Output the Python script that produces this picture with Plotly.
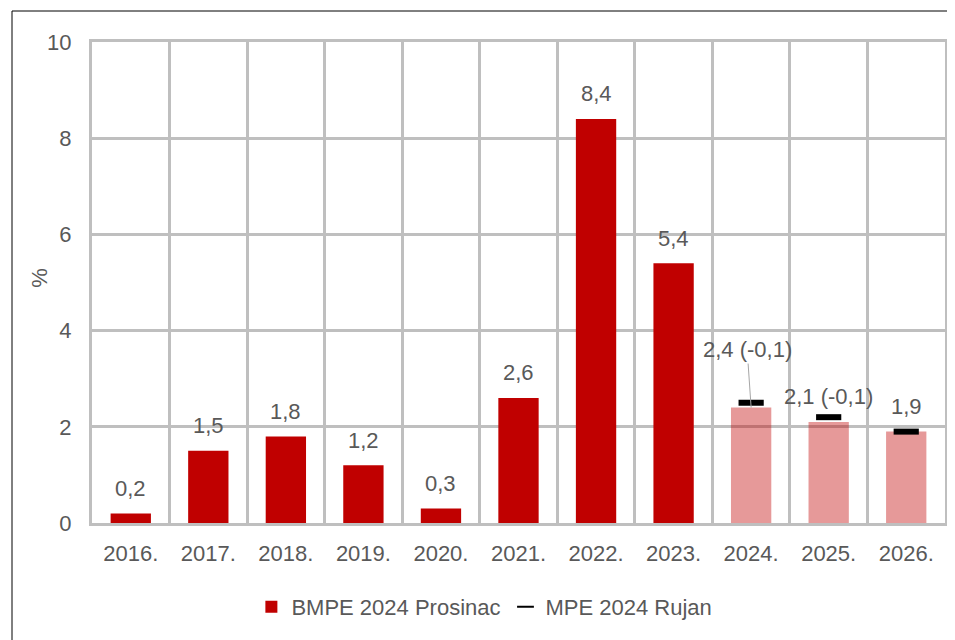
import plotly.graph_objects as go

years = ['2016.', '2017.', '2018.', '2019.', '2020.', '2021.',
         '2022.', '2023.', '2024.', '2025.', '2026.']
bmpe_dec = [0.2, 1.5, 1.8, 1.2, 0.3, 2.6, 8.4, 5.4, 2.4, 2.1, 1.9]
labels = ['0,2', '1,5', '1,8', '1,2', '0,3', '2,6', '8,4', '5,4',
          '2,4 (-0,1)', '2,1 (-0,1)', '1,9']
forecast = [False] * 8 + [True] * 3

mpe_years = ['2024.', '2025.', '2026.']
mpe_sep = [2.5, 2.2, 1.9]

RED = '#c00000'
PALE = 'rgba(192,0,0,0.4)'
GRID = '#bfbfbf'
TXT = '#595959'
FONT = 'Liberation Sans, Arial, sans-serif'

# page has an 8px body margin, so work in shifted pixel coords
OFF = 8
W, H = 955 - OFF, 640 - OFF
L, T = 92 - OFF, 42 - OFF
R, B = 10, 117
pw, ph = W - L - R, H - T - B

xi = list(range(len(years)))
mpe_xi = [years.index(y) for y in mpe_years]

fig = go.Figure()
fig.add_trace(go.Bar(x=xi, y=bmpe_dec, name='BMPE 2024 Prosinac',
                     marker=dict(color=[PALE if f else RED for f in forecast],
                                 line=dict(width=0)),
                     width=0.52))
fig.add_trace(go.Scatter(x=mpe_xi, y=mpe_sep, name='MPE 2024 Rujan',
                         mode='markers',
                         marker=dict(symbol='line-ew', size=18, color='black',
                                     line=dict(width=6, color='black'))))

# data labels
for x, v, t in zip(xi, bmpe_dec, labels):
    if years[x] == '2024.':
        fig.add_annotation(x=x, y=v, text=t, showarrow=True, arrowhead=0,
                           arrowwidth=1, arrowcolor='#a6a6a6', ax=-4, ay=-58,
                           standoff=0, font=dict(size=22, color=TXT, family=FONT))
    else:
        fig.add_annotation(x=x, y=v, text=t, showarrow=False, yanchor='middle',
                           yshift=25, font=dict(size=22, color=TXT, family=FONT))

# y axis title
fig.add_annotation(xref='paper', yref='paper', x=(40 - OFF - L) / pw, y=0.51,
                   xanchor='center', yanchor='middle',
                   text='%', textangle=-90, showarrow=False,
                   font=dict(size=22, color=TXT, family=FONT))

# outer border (top and left visible)
fig.add_shape(type='rect', xref='paper', yref='paper',
              x0=(12 - OFF - L) / pw, x1=1.5, y0=-1, y1=1 + (T - (11 - OFF)) / ph,
              line=dict(color='black', width=1), layer='below')

fig.update_layout(
    template='none',
    width=W, height=H,
    margin=dict(l=L, r=R, t=T, b=B),
    paper_bgcolor='white', plot_bgcolor='white',
    font=dict(family=FONT, size=22, color=TXT),
    barmode='overlay',
    showlegend=True,
    legend=dict(orientation='h', x=0.46, xanchor='center',
                y=(T + ph - (607 - OFF)) / ph, yanchor='middle',
                itemsizing='constant', itemwidth=30,
                font=dict(size=22, color=TXT),
                bgcolor='rgba(0,0,0,0)'),
)
fig.update_xaxes(range=[-0.5, len(years) - 0.5], tickmode='array',
                 tickvals=xi, ticktext=years, showgrid=False,
                 minor=dict(tickmode='linear', tick0=-0.5, dtick=1, showgrid=True,
                            gridcolor=GRID, gridwidth=3, ticks=''),
                 ticks='', ticklabelstandoff=9,
                 showline=True, linecolor=GRID, linewidth=3, mirror=True,
                 automargin=False, zeroline=False)
fig.update_yaxes(range=[0, 10], dtick=2, showgrid=True, gridcolor=GRID,
                 gridwidth=3, ticks='', ticklabelstandoff=13,
                 showline=True, linecolor=GRID, linewidth=3, mirror=True,
                 zeroline=False, automargin=False)

fig.write_html('out.html')
